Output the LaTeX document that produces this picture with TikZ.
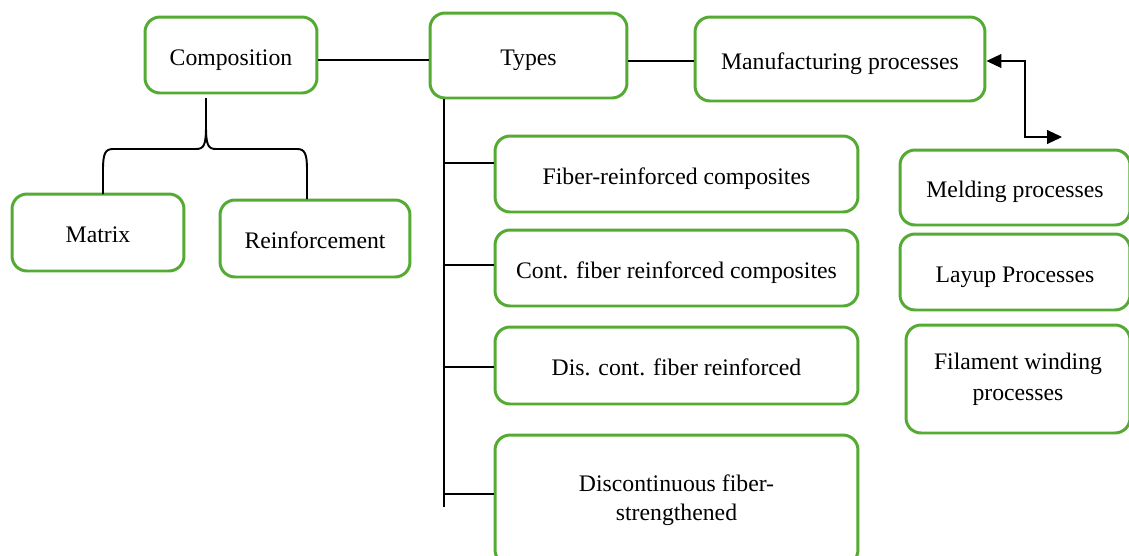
\documentclass[tikz,border=0pt]{standalone}
\usepackage{fontspec}
\setmainfont{Liberation Serif}
\usetikzlibrary{arrows.meta}
\definecolor{boxgreen}{RGB}{84,170,50}

\begin{document}
\begin{tikzpicture}[x=0.02cm,y=-0.02cm,
    box/.style={draw=boxgreen,line width=1.7pt,rounded corners=0.3cm,align=center,
      inner sep=0pt,font=\fontsize{13.5}{15.5}\selectfont},
    one/.style={box,text height=11.5pt,text depth=0pt},
    link/.style={line width=1.1pt}]
  \clip (0,0) rectangle (1129,555);

  % top row
  \node[one,minimum width=3.44cm,minimum height=1.52cm] (comp)   at (231,55)   {Composition};
  \node[one,minimum width=3.94cm,minimum height=1.70cm] (types)  at (528.5,55.5) {Types};
  \node[one,minimum width=5.80cm,minimum height=1.68cm] (manuf)  at (840,59)   {Manufacturing processes};

  % composition parts
  \node[one,minimum width=3.44cm,minimum height=1.54cm] (matrix) at (98,232.5)  {Matrix};
  \node[one,minimum width=3.80cm,minimum height=1.54cm] (reinf)  at (315,238.5) {Reinforcement};

  % types
  \node[one,minimum width=7.26cm,minimum height=1.52cm] (fiber)   at (676.5,174)   {Fiber-reinforced composites};
  \node[one,minimum width=7.26cm,minimum height=1.52cm] (cont)    at (676.5,268)   {Cont. fiber reinforced composites};
  \node[one,minimum width=7.26cm,minimum height=1.54cm] (dis)     at (676.5,365.5) {Dis. cont. fiber reinforced};
  \node[box,minimum width=7.26cm,minimum height=2.60cm] (discont) at (676.5,500)   {Discontinuous fiber-\\[1pt]strengthened};

  % processes
  \node[one,minimum width=4.60cm,minimum height=1.50cm] (meld)  at (1015,187.5) {Melding processes};
  \node[one,minimum width=4.60cm,minimum height=1.52cm] (layup) at (1015,272)   {Layup Processes};
  \node[box,minimum width=4.48cm,minimum height=2.16cm] (fil)   at (1018,379)   {Filament winding\\[2pt]processes};

  % connectors
  \draw[link] ([yshift=-0.1cm]comp.east) -- ([yshift=-0.1cm]comp.east -| types.west);
  \draw[link] ([yshift=-0.11cm]types.east) -- ([yshift=-0.11cm]types.east -| manuf.west);

  \coordinate (bt) at (206,98);
  \coordinate (bl) at (103,194);
  \coordinate (br) at (307,199);
  \draw[link] (bt) -- (206,126) .. controls (206,145) and (204,149) .. (196,149)
    -- (113,149) .. controls (105,149) and (103,154) .. (103,170) -- (bl);
  \draw[link] (bt) -- (206,126) .. controls (206,145) and (208,149) .. (216,149)
    -- (297,149) .. controls (305,149) and (307,154) .. (307,170) -- (br);

  \coordinate (trunk) at (444,507);
  \draw[link] (types.south -| trunk) -- (trunk);
  \foreach \y/\n in {163/fiber,265/cont,367/dis,494/discont}
    \draw[link] (444,\y) -- (\n.west |- 444,\y);

  \coordinate (mk) at (1025,137);
  \coordinate (mp) at (1062,137);
  \draw[line width=0.6pt,{Triangle[length=0.3cm,width=0.28cm]}-{Triangle[length=0.3cm,width=0.28cm]}]
    ([yshift=-0.04cm]manuf.east) -| (mk) -- (mp);
\end{tikzpicture}
\end{document}
